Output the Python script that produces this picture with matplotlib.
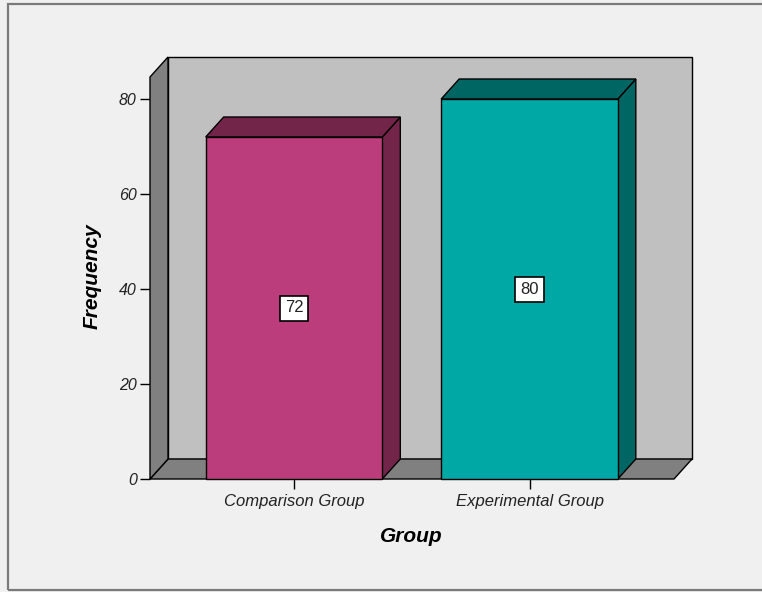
import matplotlib
matplotlib.use("Agg")
import matplotlib.pyplot as plt
from matplotlib.patches import Polygon, Rectangle

# ---- data ----
categories = ["Comparison Group", "Experimental Group"]
frequencies = [72, 80]
y_ticks = [0, 20, 40, 60, 80]
x_title = "Group"
y_title = "Frequency"

# ---- style / layout ----
front_colors = ["#bb3d7b", "#00a8a5"]
dark_colors = ["#722549", "#006663"]
bg = "#f0f0f0"
back_wall = "#c0c0c0"
side_wall = "#808080"
FONT = "Liberation Sans"

W, H = 762, 592
fig = plt.figure(figsize=(W / 100, H / 100), dpi=100, facecolor=bg)

# axes box in pixels
px_l, px_r, px_b, px_t = 150, 692, 479, 58
ax = fig.add_axes([px_l / W, 1 - px_b / H, (px_r - px_l) / W, (px_b - px_t) / H])
ax.set_facecolor("none")
for s in ax.spines.values():
    s.set_visible(False)

XPU = 235.5          # px per category unit
YPU = 4.75           # px per value unit
x_left = -(294 - px_l) / XPU
x_right = x_left + (674 - px_l) / XPU
DX = 18 / XPU
DY = 20 / YPU
wall_top = (px_b - 77) / YPU
ax.set_xlim(x_left, x_left + (px_r - px_l) / XPU)
ax.set_ylim(0, (px_b - px_t) / YPU)

ec = "black"
lw = 1.0
kw = dict(closed=True, ec=ec, lw=lw, clip_on=False)
# back wall
ax.add_patch(Polygon([(x_left + DX, DY), (x_right + DX, DY), (x_right + DX, wall_top + DY),
                      (x_left + DX, wall_top + DY)], fc=back_wall, zorder=1, **kw))
# floor
ax.add_patch(Polygon([(x_left, 0), (x_right, 0), (x_right + DX, DY), (x_left + DX, DY)],
                     fc=side_wall, zorder=2, **kw))
# left wall
ax.add_patch(Polygon([(x_left, 0), (x_left + DX, DY), (x_left + DX, wall_top + DY), (x_left, wall_top)],
                     fc=side_wall, zorder=2, **kw))

bw = 0.75
for i, (v, fc, dc) in enumerate(zip(frequencies, front_colors, dark_colors)):
    x0, x1 = i - bw / 2, i + bw / 2
    ax.add_patch(Polygon([(x1, 0), (x1 + DX, DY), (x1 + DX, v + DY), (x1, v)],
                         fc=dc, zorder=3, **kw))
    ax.add_patch(Polygon([(x0, v), (x1, v), (x1 + DX, v + DY), (x0 + DX, v + DY)],
                         fc=dc, zorder=3, **kw))
    ax.add_patch(Rectangle((x0, 0), bw, v, fc=fc, ec=ec, lw=lw, zorder=4, clip_on=False))
    ax.text(i, v / 2, str(v), ha="center", va="center", fontsize=12, family=FONT, zorder=5,
            color="#222222",
            bbox=dict(boxstyle="square,pad=0.3", fc="white", ec="black", lw=1.2))

ax.set_yticks(y_ticks)
ax.set_yticklabels([str(t) for t in y_ticks], fontstyle="italic", fontsize=11.5, family=FONT,
                   color="#222222")
ax.tick_params(axis="y", length=7.5, width=1.0, pad=2, colors="black", labelcolor="#222222")
ax.set_xticks(range(len(categories)))
ax.set_xticklabels(categories, fontstyle="italic", fontsize=12, family=FONT, color="#222222")
ax.tick_params(axis="x", length=7, width=1.0, pad=4, colors="black", labelcolor="#222222")

fig.text(92 / W, 1 - 276 / H, y_title, rotation=90, ha="center", va="center",
         fontsize=15, fontweight="bold", fontstyle="italic", family=FONT)
fig.text(411 / W, 1 - 537 / H, x_title, ha="center", va="center",
         fontsize=15, fontweight="bold", fontstyle="italic", family=FONT)

# outer frame
fig.patches.append(Rectangle((8 / W, 1 - 590 / H), 1.2, (590 - 4) / H, transform=fig.transFigure,
                             fill=False, ec="#7a7a7a", lw=1.6, clip_on=False))

fig.savefig("out.png", dpi=100, facecolor=bg)
